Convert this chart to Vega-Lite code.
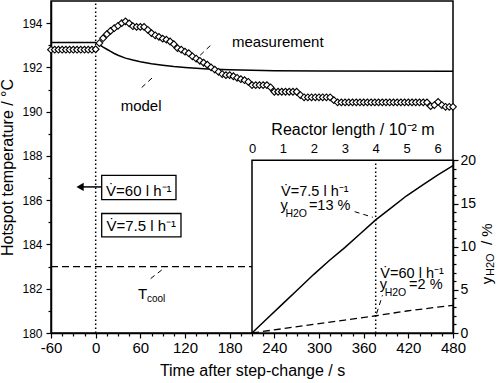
{
 "$schema": "https://vega.github.io/schema/vega-lite/v6.json",
 "width": 402, "height": 332,
 "autosize": "none",
 "padding": {"left": 51, "top": 1, "right": 47, "bottom": 50},
 "config": {
  "font": "Liberation Sans",
  "view": {"stroke": "black", "strokeWidth": 1.5},
  "axis": {"domainColor": "black", "domainWidth": 1.5, "tickColor": "black", "tickWidth": 1.2, "labelColor": "black", "titleColor": "black", "titleFontWeight": "normal", "titleFont": "Liberation Sans", "labelFont": "Liberation Sans", "grid": false, "labelOverlap": false, "labelFlush": false},
  "text": {"font": "Liberation Sans", "color": "black"}
 },
 "datasets": {
  "meas": [
   {"t":-60,"T":192.8},{"t":-55,"T":192.8},{"t":-50,"T":192.8},{"t":-45,"T":192.8},{"t":-40,"T":192.8},{"t":-35,"T":192.8},{"t":-30,"T":192.8},{"t":-25,"T":192.8},{"t":-20,"T":192.8},{"t":-15,"T":192.8},{"t":-10,"T":192.8},{"t":-5,"T":192.8},{"t":0,"T":192.82},
   {"t":5,"T":193.1},{"t":10,"T":193.32},{"t":15,"T":193.5},{"t":20,"T":193.65},{"t":25,"T":193.77},{"t":30,"T":193.88},{"t":35,"T":194.0},{"t":40,"T":194.08},{"t":45,"T":193.99},{"t":50,"T":193.86},{"t":55,"T":193.83},{"t":60,"T":193.83},{"t":65,"T":193.83},{"t":70,"T":193.7},{"t":75,"T":193.55},{"t":80,"T":193.45},{"t":85,"T":193.38},{"t":90,"T":193.3},{"t":95,"T":193.25},{"t":100,"T":193.17},{"t":105,"T":193.05},{"t":110,"T":192.87},{"t":115,"T":192.8},{"t":120,"T":192.71},{"t":125,"T":192.64},{"t":130,"T":192.5},{"t":135,"T":192.4},{"t":140,"T":192.3},{"t":145,"T":192.21},{"t":150,"T":192.12},{"t":155,"T":192.0},{"t":160,"T":191.9},{"t":165,"T":191.8},{"t":170,"T":191.7},{"t":175,"T":191.65},{"t":180,"T":191.65},{"t":185,"T":191.6},{"t":190,"T":191.53},{"t":195,"T":191.47},{"t":200,"T":191.42},{"t":205,"T":191.35},
   {"t":210,"T":191.2},{"t":215,"T":191.2},{"t":220,"T":191.2},{"t":225,"T":191.2},{"t":230,"T":191.2},{"t":235,"T":191.1},
   {"t":240,"T":190.9},{"t":245,"T":190.9},{"t":250,"T":190.9},{"t":255,"T":190.9},{"t":260,"T":190.9},{"t":265,"T":190.9},{"t":270,"T":190.9},{"t":275,"T":190.75},
   {"t":280,"T":190.65},{"t":285,"T":190.65},{"t":290,"T":190.65},{"t":295,"T":190.65},{"t":300,"T":190.65},{"t":305,"T":190.65},{"t":310,"T":190.65},{"t":315,"T":190.65},{"t":320,"T":190.52},
   {"t":325,"T":190.42},{"t":330,"T":190.42},{"t":335,"T":190.42},{"t":340,"T":190.42},{"t":345,"T":190.42},{"t":350,"T":190.42},{"t":355,"T":190.42},{"t":360,"T":190.42},{"t":365,"T":190.42},{"t":370,"T":190.42},{"t":375,"T":190.42},{"t":380,"T":190.42},{"t":385,"T":190.42},{"t":390,"T":190.42},{"t":395,"T":190.42},{"t":400,"T":190.42},{"t":405,"T":190.42},{"t":410,"T":190.42},{"t":415,"T":190.42},{"t":420,"T":190.42},{"t":425,"T":190.42},{"t":430,"T":190.42},{"t":435,"T":190.42},{"t":440,"T":190.42},{"t":445,"T":190.42},
   {"t":450,"T":190.25},{"t":455,"T":190.3},{"t":460,"T":190.44},{"t":465,"T":190.3},{"t":470,"T":190.22},{"t":475,"T":190.22},{"t":480,"T":190.22}
  ],
  "model": [
   {"t":-60,"T":193.13},{"t":0,"T":193.13},{"t":5,"T":193.03},{"t":10,"T":192.92},{"t":15,"T":192.82},{"t":20,"T":192.72},{"t":25,"T":192.63},{"t":30,"T":192.55},{"t":40,"T":192.42},{"t":50,"T":192.33},{"t":60,"T":192.26},{"t":75,"T":192.17},{"t":90,"T":192.1},{"t":105,"T":192.04},{"t":120,"T":192.0},{"t":150,"T":191.93},{"t":180,"T":191.89},{"t":210,"T":191.87},{"t":240,"T":191.85},{"t":300,"T":191.84},{"t":480,"T":191.83}
  ],
  "cool": [{"t":-60,"T":183},{"t":210,"T":183}],
  "vline": [{"t":0,"T":180},{"t":0,"T":195}],
  "leaders": [
   {"g":"m","t":140.4,"T":192.55},{"g":"m","t":157.6,"T":193.1},
   {"g":"mo","t":61.8,"T":191.09},{"g":"mo","t":78.3,"T":191.6},
   {"g":"c","t":73.9,"T":182.46},{"g":"c","t":93.1,"T":182.96}
  ],
  "boxes": [{"t":8.1,"t2":107.9,"T":187.12,"T2":186.03},{"t":8.1,"t2":114.6,"T":185.4,"T2":184.34}],
  "boxtext": [{"t":58,"T":186.43,"s":"V̇=60 l h⁻¹"},{"t":61.3,"T":184.85,"s":"V̇=7.5 l h⁻¹"}],
  "arrow": [{"t":8.1,"T":186.6},{"t":-18,"T":186.6}],
  "arrowhead": [{"t":-21,"T":186.6}],
  "labels": [{"t":183,"T":193.13,"s":"measurement"},{"t":33.6,"T":190.27,"s":"model"},{"t":56.8,"T":181.76,"s":"T"}],
  "sublabels": [{"t":68.9,"T":181.54,"s":"cool"}],
  "insetbox": [{"t":210,"t2":480,"T":180,"T2":187.8}],
  "ysolid": [{"L":0,"Y":0},{"L":0.5,"Y":1.7},{"L":1,"Y":3.4},{"L":1.5,"Y":5.1},{"L":2,"Y":6.8},{"L":2.5,"Y":8.4},{"L":3,"Y":9.9},{"L":3.5,"Y":11.5},{"L":4,"Y":13.1},{"L":4.5,"Y":14.5},{"L":5,"Y":15.9},{"L":5.5,"Y":17.1},{"L":6,"Y":18.3},{"L":6.5,"Y":19.4}],
  "ydash": [{"L":0,"Y":0},{"L":1,"Y":0.5},{"L":2,"Y":1.0},{"L":3,"Y":1.5},{"L":4,"Y":2.0},{"L":5,"Y":2.55},{"L":6,"Y":3.0},{"L":6.5,"Y":3.2}],
  "ivline": [{"L":4,"Y":0},{"L":4,"Y":20}],
  "ileaders": [{"g":"a","L":3.32,"Y":14.06},{"g":"a","L":3.91,"Y":13.41},{"g":"b","L":4.22,"Y":4.38},{"g":"b","L":4.03,"Y":2.25}],
  "itext": [{"L":0.94,"Y":16.3,"s":"V̇=7.5 l h⁻¹"},{"L":0.92,"Y":14.77,"s":"y"},{"L":1.84,"Y":14.77,"s":"=13 %"},{"L":4.15,"Y":6.87,"s":"V̇=60 l h⁻¹"},{"L":4.13,"Y":5.56,"s":"y"},{"L":5.08,"Y":5.56,"s":"=2 %"}],
  "isub": [{"L":1.08,"Y":13.75,"s":"H2O"},{"L":4.29,"Y":4.6,"s":"H2O"}],
  "rtitle": [{"L":7.61,"Y":5.66,"s":"y"},{"L":7.61,"Y":10.2,"s":"/ %"}],
  "rtitlesub": [{"L":7.74,"Y":6.6,"s":"H2O"}]
 },
 "layer": [
  {
   "encoding": {
    "x": {"field": "t", "type": "quantitative", "scale": {"domain": [-60, 480], "zero": false, "nice": false},
     "axis": {"title": "Time after step-change / s", "values": [-60,-45,-30,-15,0,15,30,45,60,75,90,105,120,135,150,165,180,195,210,225,240,255,270,285,300,315,330,345,360,375,390,405,420,435,450,465,480],
      "tickSize": {"condition": {"test": "datum.value % 60 === 0", "value": 5}, "value": 3},
      "labelExpr": "datum.value % 60 === 0 ? replace(datum.label, '−', '-') : ''",
      "labelFontSize": 15, "titleFontSize": 16, "labelPadding": 2, "titlePadding": 7}},
    "y": {"field": "T", "type": "quantitative", "scale": {"domain": [180, 195], "zero": false, "nice": false},
     "axis": {"title": "Hotspot temperature / °C", "values": [180,181,182,183,184,185,186,187,188,189,190,191,192,193,194],
      "tickSize": {"condition": {"test": "datum.value % 2 === 0", "value": 5}, "value": 3},
      "labelExpr": "datum.value % 2 === 0 ? datum.label : ''",
      "labelFontSize": 12, "titleFontSize": 16, "labelPadding": 4, "titlePadding": 6}}
   },
   "layer": [
    {"data": {"name": "cool"}, "mark": {"type": "line", "color": "black", "strokeWidth": 1.3, "strokeDash": [7, 4]}, "encoding": {}},
    {"data": {"name": "vline"}, "mark": {"type": "line", "color": "black", "strokeWidth": 1.5, "strokeDash": [1.5, 2.5]}, "encoding": {}},
    {"data": {"name": "model"}, "mark": {"type": "line", "color": "black", "strokeWidth": 1.5}, "encoding": {}},
    {"data": {"name": "meas"}, "mark": {"type": "point", "shape": "diamond", "filled": true, "fill": "white", "stroke": "black", "strokeWidth": 1.1, "size": 45, "opacity": 1}},
    {"data": {"name": "leaders"}, "mark": {"type": "line", "color": "black", "strokeWidth": 1, "strokeDash": [5, 4]}, "encoding": {"detail": {"field": "g"}}},
    {"data": {"name": "boxes"}, "mark": {"type": "rect", "fill": "white", "stroke": "black", "strokeWidth": 1.3}, "encoding": {"x2": {"field": "t2"}, "y2": {"field": "T2"}}},
    {"data": {"name": "boxtext"}, "mark": {"type": "text", "fontSize": 15, "align": "center", "baseline": "middle"}, "encoding": {"text": {"field": "s"}}},
    {"data": {"name": "arrow"}, "mark": {"type": "line", "color": "black", "strokeWidth": 1.5}, "encoding": {}},
    {"data": {"name": "arrowhead"}, "mark": {"type": "point", "shape": "triangle-left", "filled": true, "color": "black", "size": 70, "opacity": 1}},
    {"data": {"name": "labels"}, "mark": {"type": "text", "fontSize": 15, "align": "left", "baseline": "middle"}, "encoding": {"text": {"field": "s"}}},
    {"data": {"name": "sublabels"}, "mark": {"type": "text", "fontSize": 10, "align": "left", "baseline": "middle"}, "encoding": {"text": {"field": "s"}}},
    {"data": {"name": "insetbox"}, "mark": {"type": "rect", "fill": "white", "stroke": "black", "strokeWidth": 1.5}, "encoding": {"x2": {"field": "t2"}, "y2": {"field": "T2"}}}
   ]
  },
  {
   "encoding": {
    "x": {"field": "L", "type": "quantitative", "scale": {"domain": [0, 6.5], "range": [201, 402], "zero": false, "nice": false},
     "axis": {"orient": "top", "offset": -159.4, "title": "Reactor length / 10⁻² m", "values": [0,0.5,1,1.5,2,2.5,3,3.5,4,4.5,5,5.5,6,6.5],
      "tickSize": {"condition": {"test": "datum.value % 1 === 0", "value": -5}, "value": -3},
      "labelExpr": "datum.value % 1 === 0 ? format(datum.value, 'd') : ''",
      "labelFontSize": 13, "titleFontSize": 16, "labelPadding": 10, "titlePadding": 3}},
    "y": {"field": "Y", "type": "quantitative", "scale": {"domain": [0, 20], "range": [332, 159.4], "zero": false, "nice": false},
     "axis": {"orient": "right", "title": null, "values": [0,1,2,3,4,5,6,7,8,9,10,11,12,13,14,15,16,17,18,19,20],
      "tickSize": {"condition": {"test": "datum.value % 5 === 0", "value": 5}, "value": 3},
      "labelExpr": "datum.value % 5 === 0 ? datum.label : ''",
      "labelFontSize": 14, "labelPadding": 2}}
   },
   "layer": [
    {"data": {"name": "ivline"}, "mark": {"type": "line", "color": "black", "strokeWidth": 1.5, "strokeDash": [1.5, 2.5]}, "encoding": {}},
    {"data": {"name": "ysolid"}, "mark": {"type": "line", "color": "black", "strokeWidth": 1.5}, "encoding": {}},
    {"data": {"name": "ydash"}, "mark": {"type": "line", "color": "black", "strokeWidth": 1.3, "strokeDash": [7, 4]}, "encoding": {}},
    {"data": {"name": "ileaders"}, "mark": {"type": "line", "color": "black", "strokeWidth": 1, "strokeDash": [5, 4]}, "encoding": {"detail": {"field": "g"}}},
    {"data": {"name": "itext"}, "mark": {"type": "text", "fontSize": 14.5, "align": "left", "baseline": "middle"}, "encoding": {"text": {"field": "s"}}},
    {"data": {"name": "isub"}, "mark": {"type": "text", "fontSize": 10.5, "align": "left", "baseline": "middle"}, "encoding": {"text": {"field": "s"}}},
    {"data": {"name": "rtitle"}, "mark": {"type": "text", "fontSize": 15, "align": "left", "baseline": "middle", "angle": 270}, "encoding": {"text": {"field": "s"}}},
    {"data": {"name": "rtitlesub"}, "mark": {"type": "text", "fontSize": 11, "align": "left", "baseline": "middle", "angle": 270}, "encoding": {"text": {"field": "s"}}}
   ]
  }
 ],
 "resolve": {"scale": {"x": "independent", "y": "independent"}}
}
